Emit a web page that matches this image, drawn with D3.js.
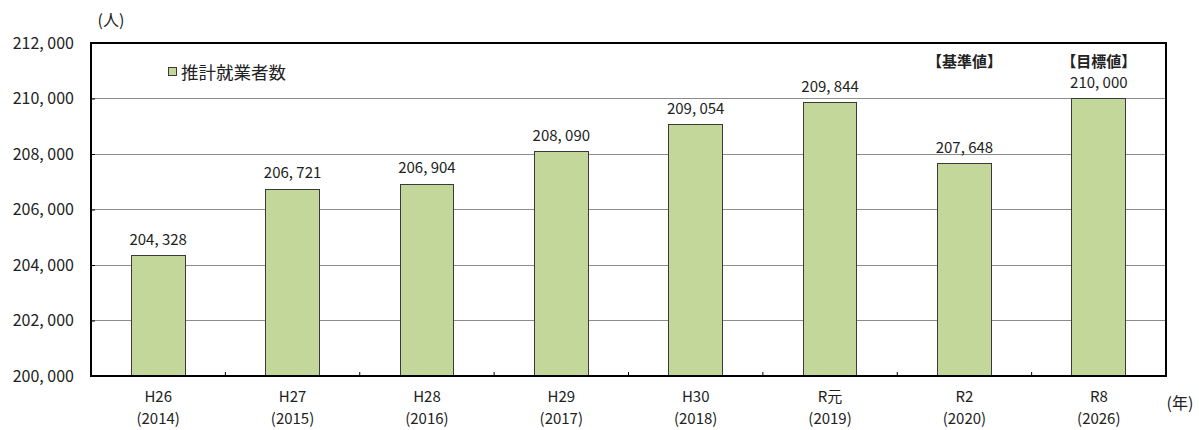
<!DOCTYPE html>
<html>
<head>
<meta charset="utf-8">
<script src="https://cdn.jsdelivr.net/npm/d3@7"></script>
<style>
  html, body { margin: 0; padding: 0; background: #fff; }
  svg text { font-family: "Noto Sans CJK JP", "Noto Sans", sans-serif; fill: #222; }
</style>
</head>
<body>
<svg id="chart" width="1199" height="430"></svg>
<script>
// Estimated employed persons by year (persons)
const eraLabels = ["H26", "H27", "H28", "H29", "H30", "R元", "R2", "R8"];
const yearLabels = ["(2014)", "(2015)", "(2016)", "(2017)", "(2018)", "(2019)", "(2020)", "(2026)"];
const workers = [204328, 206721, 206904, 208090, 209054, 209844, 207648, 210000];
const yTicks = [200000, 202000, 204000, 206000, 208000, 210000, 212000];
const notes = ["", "", "", "", "", "", "【基準値】", "【目標値】"];
const seriesName = "推計就業者数";

const svg = d3.select("#chart");
const plotL = 91, plotR = 1166, plotT = 43, plotB = 376;

const x = d3.scaleBand().domain(eraLabels).range([plotL, plotR])
  .paddingInner(0.6).paddingOuter(0.3);
const y = d3.scaleLinear().domain([200000, 212000]).range([plotB, plotT]);

const fmt = v => d3.format(",")(v).replace(/,/g, ", ");
const cx = d => x(d) + x.bandwidth() / 2;

// horizontal gridlines
svg.append("g").selectAll("line").data(yTicks.filter(t => t > 200000 && t < 212000))
  .join("line")
  .attr("x1", plotL).attr("x2", plotR)
  .attr("y1", d => y(d)).attr("y2", d => y(d))
  .attr("stroke", "#8c8c8c").attr("stroke-width", 1)
  .attr("shape-rendering", "crispEdges");

// bars
svg.append("g").selectAll("rect").data(workers).join("rect")
  .attr("x", (d, i) => x(eraLabels[i]))
  .attr("y", d => y(d))
  .attr("width", x.bandwidth())
  .attr("height", d => plotB - y(d))
  .attr("fill", "#c4d79b")
  .attr("stroke", "#3a3a3a").attr("stroke-width", 1)
  .attr("shape-rendering", "crispEdges");

// value labels
svg.append("g").selectAll("text").data(workers).join("text")
  .attr("x", (d, i) => cx(eraLabels[i]))
  .attr("y", d => y(d) - 11)
  .attr("text-anchor", "middle")
  .attr("font-size", 15)
  .text(d => fmt(d));

// notes above the baseline and target bars
svg.append("g").selectAll("text").data(notes).join("text")
  .attr("x", (d, i) => cx(eraLabels[i]))
  .attr("y", 67)
  .attr("text-anchor", "middle")
  .attr("font-size", 15)
  .attr("font-weight", "bold")
  .text(d => d);

// plot frame
svg.append("rect")
  .attr("x", plotL).attr("y", plotT)
  .attr("width", plotR - plotL).attr("height", plotB - plotT)
  .attr("fill", "none").attr("stroke", "#000").attr("stroke-width", 1.2)
  .attr("shape-rendering", "crispEdges");

// y axis
const yAxis = d3.axisLeft(y).tickValues(yTicks).tickSizeInner(-4).tickSizeOuter(0)
  .tickPadding(17).tickFormat(fmt);
const gy = svg.append("g").attr("transform", `translate(${plotL},0)`).call(yAxis);
gy.select(".domain").attr("stroke", "#000");
gy.selectAll(".tick line").attr("stroke", "#000");
gy.selectAll(".tick text").attr("font-size", 16).attr("fill", "#222")
  .attr("font-family", "\"Noto Sans CJK JP\", sans-serif");

// x axis: ticks at category boundaries pointing up
const bounds = eraLabels.slice(1).map(d => x(d) - x.step() * x.paddingInner() / 2);
svg.append("line").attr("x1", plotL).attr("x2", plotR).attr("y1", plotB).attr("y2", plotB)
  .attr("stroke", "#000").attr("stroke-width", 1.5);
svg.append("g").selectAll("line").data(bounds).join("line")
  .attr("x1", d => d).attr("x2", d => d)
  .attr("y1", plotB).attr("y2", plotB - 4)
  .attr("stroke", "#000");

// category labels: era name, then western year below
svg.append("g").selectAll("text").data(eraLabels).join("text")
  .attr("x", d => cx(d)).attr("y", 402)
  .attr("text-anchor", "middle").attr("font-size", 15)
  .text(d => d);
svg.append("g").selectAll("text").data(eraLabels).join("text")
  .attr("x", d => cx(d)).attr("y", 424)
  .attr("text-anchor", "middle").attr("font-size", 15)
  .text((d, i) => yearLabels[i]);

// unit labels
svg.append("text").attr("x", 111).attr("y", 26).attr("text-anchor", "middle")
  .attr("font-size", 16).text("(人)");
svg.append("text").attr("x", 1180).attr("y", 409).attr("text-anchor", "middle")
  .attr("font-size", 16).text("(年)");

// legend
svg.append("rect").attr("x", 168.5).attr("y", 67.5).attr("width", 8).attr("height", 8)
  .attr("fill", "#c4d79b").attr("stroke", "#3a3a3a");
svg.append("text").attr("x", 181).attr("y", 79).attr("font-size", 17.5).text(seriesName);
</script>
</body>
</html>
